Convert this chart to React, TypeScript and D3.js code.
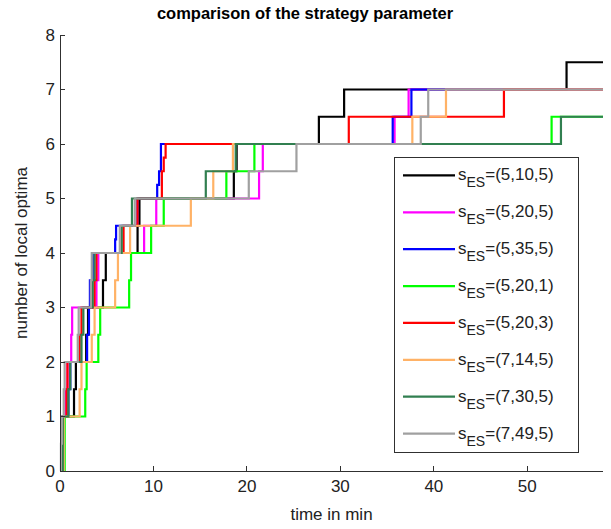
import React from "react";
import * as d3 from "d3";

const title = "comparison of the strategy parameter";
const xLabel = "time in min";
const yLabel = "number of local optima";
const xTicks = [0, 10, 20, 30, 40, 50];
const yTicks = [0, 1, 2, 3, 4, 5, 6, 7, 8];
const xMax = 58.1;

const seriesNames = ["(5,10,5)", "(5,20,5)", "(5,35,5)", "(5,20,1)", "(5,20,3)", "(7,14,5)", "(7,30,5)", "(7,49,5)"];
const seriesColors = ["#000000", "#ff00ff", "#0000ff", "#00ff00", "#ff0000", "#ffb266", "#317f50", "#a0a0a0"];

// [time (min), number of local optima] – value holds from that time on
const s_5_10_5 = [[0,0],[0.3,1],[1.5,1.5],[1.7,2],[2.8,2.5],[3.0,3],[4.6,3.5],[4.9,4],[8.3,4.5],[8.5,5],[18.6,5.5],[18.9,6],[27.7,6.5],[30.4,7],[54.2,7.5]];
const s_5_20_5 = [[0,0],[0.3,1],[0.6,1.5],[0.8,2],[1.2,2.5],[1.3,3],[3.9,3.5],[4.1,4],[9.0,4.5],[10.3,5],[21.3,5.5],[21.7,6],[35.8,6.5],[37.3,7]];
const s_5_35_5 = [[0,0],[0.3,1],[0.9,1.5],[1.1,2],[2.9,2.5],[3.1,3],[3.2,3.5],[3.5,4],[5.9,4.25],[6.0,4.5],[8.3,5],[10.4,5.25],[10.6,5.5],[10.8,6],[35.6,6.5],[37.6,7]];
const s_5_20_1 = [[0,0],[0.5,1],[2.7,1.5],[2.85,2],[4.1,2.5],[4.3,3],[7.4,3.5],[7.6,4],[9.75,4.5],[11.1,5],[17.8,5.5],[20.8,6],[52.6,6.5]];
const s_5_20_3 = [[0,0],[0.3,1],[0.7,1.5],[0.8,2],[2.1,2.5],[2.3,3],[3.7,3.5],[3.9,4],[6.8,4.5],[8.3,5],[10.9,5.5],[11.1,5.75],[11.3,6],[30.9,6.5],[47.5,7]];
const s_7_14_5 = [[0,0],[0.4,1],[2.1,1.5],[2.3,2],[3.4,2.5],[3.7,3],[5.9,3.5],[6.2,4],[7.5,4.5],[14.0,5],[16.4,5.5],[18.5,6],[37.7,6.5],[41.3,7]];
const s_7_30_5 = [[0,0],[0.3,1],[0.9,1.5],[1.1,2],[2.3,2.5],[2.5,3],[3.5,3.5],[3.7,4],[6.6,4.5],[7.7,5],[15.6,5.5],[18.8,6],[53.6,6.5]];
const s_7_49_5 = [[0,0],[0.1,0.5],[0.2,1],[0.4,1.5],[0.5,2],[1.9,2.5],[2.0,3],[3.3,3.5],[3.4,4],[6.4,4.5],[8.0,5],[20.2,5.5],[25.3,6],[38.6,6.5],[39.4,7]];

const seriesData = [s_5_10_5, s_5_20_5, s_5_35_5, s_5_20_1, s_5_20_3, s_7_14_5, s_7_30_5, s_7_49_5];

const W = 611;
const H = 529;
const font = "Arial, 'Liberation Sans', Helvetica, sans-serif";

export default function App() {
  const x = d3.scaleLinear().domain([0, xMax]).range([60, 603]);
  const y = d3.scaleLinear().domain([0, 8]).range([471, 35]);
  const line = d3
    .line<number[]>()
    .x((d) => x(d[0]))
    .y((d) => y(d[1]))
    .curve(d3.curveStepAfter);

  const axisColor = "#303030";
  const legX = 394, legY = 157, legW = 184, legH = 295;
  const rowH = legH / seriesNames.length;

  return (
    <svg width={W} height={H} style={{ position: "absolute", left: 0, top: 0, background: "#fff" }} fontFamily={font}>
      <rect x={0} y={0} width={W} height={H} fill="#fff" />
      <text x={305} y={19} textAnchor="middle" fontWeight="bold" fontSize={16.5} fill="#000">
        {title}
      </text>

      {/* series */}
      <g fill="none" strokeWidth={2.2}>
        {seriesData.map((s, i) => {
          const pts = [...s, [xMax, s[s.length - 1][1]]];
          return <path key={i} d={line(pts) || ""} stroke={seriesColors[i]} />;
        })}
      </g>

      {/* axes */}
      <g stroke={axisColor} strokeWidth={1} shapeRendering="crispEdges">
        <line x1={x(0)} x2={x(0)} y1={y(8)} y2={y(0)} />
        <line x1={x(0)} x2={x(xMax)} y1={y(0)} y2={y(0)} />
        {yTicks.map((t) => (
          <line key={"yt" + t} x1={x(0)} x2={x(0) + 5} y1={y(t)} y2={y(t)} />
        ))}
        {xTicks.map((t) => (
          <line key={"xt" + t} x1={x(t)} x2={x(t)} y1={y(0)} y2={y(0) - 5} />
        ))}
      </g>
      <g fontSize={17} fill="#222">
        {yTicks.map((t) => (
          <text key={"yl" + t} x={x(0) - 5} y={y(t)} dy="0.35em" textAnchor="end">
            {t}
          </text>
        ))}
        {xTicks.map((t) => (
          <text key={"xl" + t} x={x(t)} y={y(0) + 21} textAnchor="middle">
            {t}
          </text>
        ))}
      </g>
      <text x={(x(0) + x(xMax)) / 2} y={520} textAnchor="middle" fontSize={17} fill="#222">
        {xLabel}
      </text>
      <text
        transform={`translate(27, ${(y(0) + y(8)) / 2}) rotate(-90)`}
        textAnchor="middle"
        fontSize={17}
        fill="#222"
      >
        {yLabel}
      </text>

      {/* legend */}
      <rect x={legX + 0.5} y={legY + 0.5} width={legW} height={legH} fill="#fff" stroke={axisColor} strokeWidth={1} />
      {seriesNames.map((n, i) => {
        const cy = legY + rowH * (i + 0.5);
        return (
          <g key={"lg" + i}>
            <line x1={403} x2={455} y1={cy} y2={cy} stroke={seriesColors[i]} strokeWidth={2.2} />
            <text x={458} y={cy + 5} fontSize={17} fill="#222">
              s
              <tspan dy={7} fontSize={14}>ES</tspan>
              <tspan dy={-7}>={n}</tspan>
            </text>
          </g>
        );
      })}
    </svg>
  );
}
